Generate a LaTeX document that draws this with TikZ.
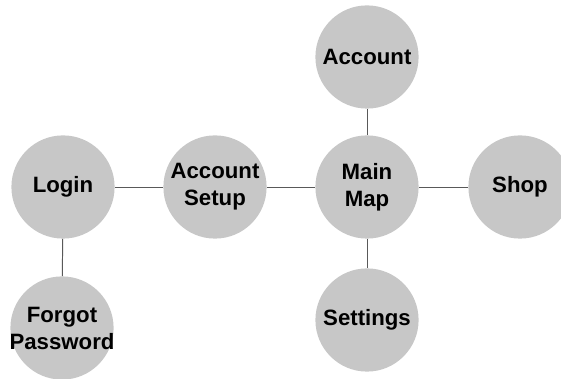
\documentclass[tikz,border=0pt]{standalone}
\usepackage{fontspec}
\setmainfont{Liberation Sans}
\usepackage{tikz}

\definecolor{screenfill}{HTML}{C7C7C7}
\definecolor{linkgray}{HTML}{595959}

\begin{document}
\begin{tikzpicture}[
		scale=1,
		every node/.style={circle, fill=screenfill, minimum size=2.58cm, inner sep=-0.8cm,
			align=center, font=\bfseries\fontsize{15.8}{19.2}\selectfont},
		link/.style={draw=linkgray, line width=0.7pt}
	]
  \useasboundingbox (0cm, 0cm) rectangle (14.025cm, 9.475cm);
  \node (login) at (1.575cm, 4.8cm) {Login};
  \node (forgot) at (1.55cm, 1.275cm) {Forgot\\Password};
  \node (setup) at (5.375cm, 4.8cm) {Account\\Setup};
  \node (main_map) at (9.175cm, 4.8cm) {Main\\Map};
  \node (account) at (9.175cm, 8.05cm) {Account};
  \node (shop) at (13.0cm, 4.8cm) {Shop};
  \node (settings) at (9.175cm, 1.475cm) {Settings};
  \draw (login) edge[link] (setup);
  \draw (login) edge[link] (forgot);
  \draw (setup) edge[link] (main_map);
  \draw (main_map) edge[link] (account);
  \draw (main_map) edge[link] (shop);
  \draw (main_map) edge[link] (settings);
\end{tikzpicture}
\end{document}
